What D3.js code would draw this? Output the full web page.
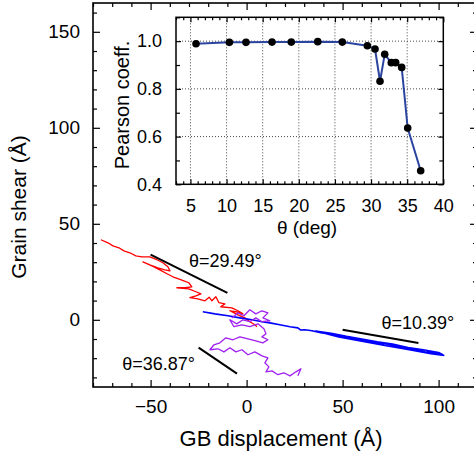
<!DOCTYPE html>
<html>
<head>
<meta charset="utf-8">
<script src="https://cdn.jsdelivr.net/npm/d3@7"></script>
<style>
  body { margin: 0; background: #fff; }
  svg { display: block; font-family: "Liberation Sans", Arial, Helvetica, sans-serif; }
</style>
</head>
<body>
<svg id="chart" width="474" height="456"></svg>
<script>
// inset: Pearson coefficient vs misorientation angle
const theta = [5.77, 10.39, 12.69, 16.29, 18.96, 22.62, 26.02, 29.49, 30.55, 31.24, 31.89, 32.80, 33.41, 34.24, 35.07, 36.87];
const pearson = [0.989, 0.995, 0.995, 0.996, 0.996, 0.998, 0.996, 0.981, 0.967, 0.832, 0.945, 0.910, 0.910, 0.890, 0.636, 0.457];

// main: GB trajectories, [displacement, shear] in Angstrom
const redPath = [
  [-75.9, 41.7], [-72.2, 40.1], [-69.6, 38.5], [-66.5, 37.5], [-63.9, 35.9], [-60.8, 34.9],
  [-57.7, 33.3], [-54.5, 32.8], [-50.4, 32.8], [-46.7, 31.3], [-43.6, 29.7], [-41.0, 27.6],
  [-39.9, 25.5], [-42.6, 26.0], [-46.2, 27.1], [-50.4, 28.6], [-54.0, 30.2], [-49.3, 28.1],
  [-45.2, 26.0], [-41.5, 24.0], [-38.4, 22.4], [-35.8, 21.4], [-32.7, 20.3], [-30.1, 19.3],
  [-28.5, 17.2], [-32.1, 16.7], [-36.3, 16.7], [-30.1, 16.1], [-26.4, 14.6], [-23.8, 13.5],
  [-26.4, 12.5], [-29.5, 11.5], [-25.4, 10.9], [-21.7, 9.9], [-19.5, 11.8], [-18.1, 9.9],
  [-16.0, 12.0], [-14.4, 8.9], [-11.3, 8.3], [-13.5, 6.8], [-7.7, 6.25], [-4.5, 4.7],
  [-1.9, 3.1], [-5.6, 4.2], [-8.7, 4.7], [-4.5, 2.6], [-0.9, 1.0], [1.7, -1.0],
  [4.3, -2.6], [5.4, -3.6]
];
const bluePath = [
  [-22.8, 4.2], [-16.5, 3.1], [-9.7, 2.1], [-3.5, 1.0], [2.8, 0.0], [8.0, -1.0],
  [12.1, -1.6], [17.3, -2.6], [22.6, -3.6], [26.7, -4.2], [28.0, -5.3], [30.4, -5.2],
  [34.0, -5.7], [39.2, -6.8], [43.4, -7.3], [47.6, -8.3], [52.8, -9.4], [56.9, -9.9],
  [61.6, -10.9], [66.8, -12.0], [72.0, -12.5], [77.2, -13.5], [82.4, -14.6], [87.7, -15.6],
  [92.9, -16.7], [98.1, -17.2], [102.2, -18.2], [100.0, -17.0], [92.0, -15.6], [84.0, -14.4],
  [76.0, -12.6], [68.0, -11.5], [60.0, -10.0], [52.0, -8.6], [44.0, -7.0], [36.0, -5.8],
  [48.0, -8.9], [60.0, -11.2], [72.0, -13.4], [84.0, -15.5], [96.0, -17.6], [103.0, -18.6]
];
const purplePath = [
  [-7.7, 1.0], [-4.5, 3.6], [-1.4, 2.1], [1.7, 5.2], [4.8, 3.1], [8.0, 4.7],
  [11.1, 3.6], [8.5, 1.0], [12.1, -0.5], [8.0, -1.0], [4.8, 1.0], [1.7, -1.0],
  [-1.9, 0.0], [-5.1, -2.1], [-8.7, 0.0], [-6.6, -3.6], [-2.4, -2.6], [1.7, -3.6],
  [5.9, -2.1], [9.0, -4.7], [10.1, -7.3], [8.0, -8.9], [11.1, -10.4], [8.5, -12.0],
  [4.3, -10.9], [0.7, -9.9], [-3.5, -8.9], [-7.1, -10.4], [-10.8, -9.4], [-13.9, -12.0],
  [-17.0, -13.0], [-19.1, -15.6], [-14.9, -15.1], [-11.8, -16.7], [-8.7, -14.6], [-5.6, -16.7],
  [-2.4, -15.6], [0.7, -18.2], [4.3, -16.7], [8.0, -18.8], [11.1, -19.8], [9.5, -22.4],
  [11.6, -24.5], [10.1, -27.1], [13.2, -26.6], [16.3, -28.6], [19.4, -27.6], [22.6, -29.2],
  [25.7, -27.1], [28.3, -25.5], [26.7, -29.2]
];
const pathColors = ["#ff0000", "#0000ff", "#a020f0"];

// reference slopes and their labels
const slopeNames = ["θ=29.49°", "θ=10.39°", "θ=36.87°"];
const slopeLines = [[[-50, 34], [-10, 14]], [[50, -5.2], [89.5, -12.1]], [[-25, -14.5], [-5, -28]]];
const slopeLabelAt = [[-30, 27.6], [70.2, -4.9], [-64.8, -26]];

const xTicks = [-50, 0, 50, 100];
const yTicks = [0, 50, 100, 150];
const insetXTicks = [5, 10, 15, 20, 25, 30, 35, 40];
const insetYTicks = [0.4, 0.6, 0.8, 1.0];

const svg = d3.select("#chart");

// ---------- main panel ----------
const M = {left: 93, right: 477, top: 3, bottom: 387};
const x = d3.scaleLinear().domain([-80, 120]).range([M.left, M.right]);
const y = d3.scaleLinear().domain([-35, 165]).range([M.bottom, M.top]);

const xMinor = d3.range(-80, 121, 10).filter(v => !xTicks.includes(v));
const yMinor = d3.range(-30, 161, 10).filter(v => !yTicks.includes(v));

function styleAxis(g, size) {
  g.select(".domain").remove();
  g.selectAll("line").attr("stroke", "#000").attr("stroke-width", 1.2);
  g.selectAll("text").attr("font-size", size).attr("fill", "#000");
}

svg.append("g").attr("transform", `translate(0,${M.bottom})`)
  .call(d3.axisBottom(x).tickValues(xTicks).tickSizeInner(-7).tickSizeOuter(0).tickPadding(13)
    .tickFormat(d => d < 0 ? "\u2212" + Math.abs(d) : d))
  .call(g => styleAxis(g, 19));
svg.append("g").attr("transform", `translate(0,${M.bottom})`)
  .call(d3.axisBottom(x).tickValues(xMinor).tickSizeInner(-4).tickSizeOuter(0).tickFormat(""))
  .call(g => styleAxis(g, 19));
svg.append("g").attr("transform", `translate(0,${M.top})`)
  .call(d3.axisTop(x).tickValues(xTicks).tickSizeInner(-7).tickSizeOuter(0).tickFormat(""))
  .call(g => styleAxis(g, 19));
svg.append("g").attr("transform", `translate(0,${M.top})`)
  .call(d3.axisTop(x).tickValues(xMinor).tickSizeInner(-4).tickSizeOuter(0).tickFormat(""))
  .call(g => styleAxis(g, 19));

svg.append("g").attr("transform", `translate(${M.left},0)`)
  .call(d3.axisLeft(y).tickValues(yTicks).tickSizeInner(-7).tickSizeOuter(0).tickPadding(13))
  .call(g => styleAxis(g, 19));
svg.append("g").attr("transform", `translate(${M.left},0)`)
  .call(d3.axisLeft(y).tickValues(yMinor).tickSizeInner(-4).tickSizeOuter(0).tickFormat(""))
  .call(g => styleAxis(g, 19));
svg.append("g").attr("transform", `translate(${M.right},0)`)
  .call(d3.axisRight(y).tickValues(yTicks).tickSizeInner(-7).tickSizeOuter(0).tickFormat(""))
  .call(g => styleAxis(g, 19));
svg.append("g").attr("transform", `translate(${M.right},0)`)
  .call(d3.axisRight(y).tickValues(yMinor).tickSizeInner(-4).tickSizeOuter(0).tickFormat(""))
  .call(g => styleAxis(g, 19));

svg.append("rect")
  .attr("x", M.left).attr("y", M.top)
  .attr("width", M.right - M.left).attr("height", M.bottom - M.top)
  .attr("fill", "none").attr("stroke", "#000").attr("stroke-width", 1.6);

svg.append("text")
  .attr("transform", "translate(26,207) rotate(-90)")
  .attr("text-anchor", "middle").attr("font-size", 21)
  .text("Grain shear (Å)");
svg.append("text")
  .attr("x", 281).attr("y", 446)
  .attr("text-anchor", "middle").attr("font-size", 22)
  .text("GB displacement (Å)");

const line = d3.line().x(d => x(d[0])).y(d => y(d[1]));

[redPath, bluePath, purplePath].forEach((p, i) => {
  svg.append("path")
    .datum(p)
    .attr("fill", "none")
    .attr("stroke", pathColors[i])
    .attr("stroke-width", i === 1 ? 1.6 : 1.3)
    .attr("stroke-linejoin", "round")
    .attr("d", line);
});

slopeLines.forEach((s, i) => {
  svg.append("line")
    .attr("x1", x(s[0][0])).attr("y1", y(s[0][1]))
    .attr("x2", x(s[1][0])).attr("y2", y(s[1][1]))
    .attr("stroke", "#000").attr("stroke-width", 2);
  svg.append("text")
    .attr("x", x(slopeLabelAt[i][0])).attr("y", y(slopeLabelAt[i][1]))
    .attr("font-size", 18)
    .text(slopeNames[i]);
});

// ---------- inset ----------
const I = {left: 176, right: 443.3, top: 17.3, bottom: 184.3};
const ix = d3.scaleLinear().domain([3, 40]).range([I.left, I.right]);
const iy = d3.scaleLinear().domain([0.4, 1.1]).range([I.bottom, I.top]);

svg.append("rect")
  .attr("x", I.left).attr("y", I.top)
  .attr("width", I.right - I.left).attr("height", I.bottom - I.top)
  .attr("fill", "#fff");

// dotted grid
const grid = svg.append("g").attr("stroke", "#333").attr("stroke-width", 0.9).attr("stroke-dasharray", "1,2");
insetXTicks.filter(v => v < 40).forEach(v => {
  grid.append("line").attr("x1", ix(v)).attr("x2", ix(v)).attr("y1", I.top).attr("y2", I.bottom);
});
insetYTicks.filter(v => v > 0.4).forEach(v => {
  grid.append("line").attr("x1", I.left).attr("x2", I.right).attr("y1", iy(v)).attr("y2", iy(v));
});

const ixMinor = d3.range(3, 41, 1).filter(v => !insetXTicks.includes(v));
const iyMinor = [0.5, 0.7, 0.9, 1.1];

svg.append("g").attr("transform", `translate(0,${I.bottom})`)
  .call(d3.axisBottom(ix).tickValues(insetXTicks).tickSizeInner(-5).tickSizeOuter(0).tickPadding(15))
  .call(g => styleAxis(g, 18));
svg.append("g").attr("transform", `translate(0,${I.bottom})`)
  .call(d3.axisBottom(ix).tickValues(ixMinor).tickSizeInner(-3).tickSizeOuter(0).tickFormat(""))
  .call(g => styleAxis(g, 18));
svg.append("g").attr("transform", `translate(0,${I.top})`)
  .call(d3.axisTop(ix).tickValues(insetXTicks).tickSizeInner(-5).tickSizeOuter(0).tickFormat(""))
  .call(g => styleAxis(g, 18));
svg.append("g").attr("transform", `translate(0,${I.top})`)
  .call(d3.axisTop(ix).tickValues(ixMinor).tickSizeInner(-3).tickSizeOuter(0).tickFormat(""))
  .call(g => styleAxis(g, 18));
svg.append("g").attr("transform", `translate(${I.left},0)`)
  .call(d3.axisLeft(iy).tickValues(insetYTicks).tickSizeInner(-5).tickSizeOuter(0).tickPadding(14)
    .tickFormat(d3.format(".1f")))
  .call(g => styleAxis(g, 18));
svg.append("g").attr("transform", `translate(${I.left},0)`)
  .call(d3.axisLeft(iy).tickValues(iyMinor).tickSizeInner(-4).tickSizeOuter(0).tickFormat(""))
  .call(g => styleAxis(g, 18));
svg.append("g").attr("transform", `translate(${I.right},0)`)
  .call(d3.axisRight(iy).tickValues(insetYTicks).tickSizeInner(-5).tickSizeOuter(0).tickFormat(""))
  .call(g => styleAxis(g, 18));
svg.append("g").attr("transform", `translate(${I.right},0)`)
  .call(d3.axisRight(iy).tickValues(iyMinor).tickSizeInner(-4).tickSizeOuter(0).tickFormat(""))
  .call(g => styleAxis(g, 18));

svg.append("rect")
  .attr("x", I.left).attr("y", I.top)
  .attr("width", I.right - I.left).attr("height", I.bottom - I.top)
  .attr("fill", "none").attr("stroke", "#000").attr("stroke-width", 1.5);

const pts = theta.map((t, i) => [t, pearson[i]]);
svg.append("path")
  .datum(pts)
  .attr("fill", "none")
  .attr("stroke", "#2a44a0")
  .attr("stroke-width", 2)
  .attr("d", d3.line().x(d => ix(d[0])).y(d => iy(d[1])));
svg.append("g").selectAll("circle")
  .data(pts).enter().append("circle")
  .attr("cx", d => ix(d[0])).attr("cy", d => iy(d[1]))
  .attr("r", 3.8).attr("fill", "#000");

svg.append("text")
  .attr("transform", "translate(129,105) rotate(-90)")
  .attr("text-anchor", "middle").attr("font-size", 20)
  .text("Pearson coeff.");
svg.append("text")
  .attr("x", 307).attr("y", 233.5)
  .attr("text-anchor", "middle").attr("font-size", 19)
  .text("θ (deg)");
</script>
</body>
</html>
